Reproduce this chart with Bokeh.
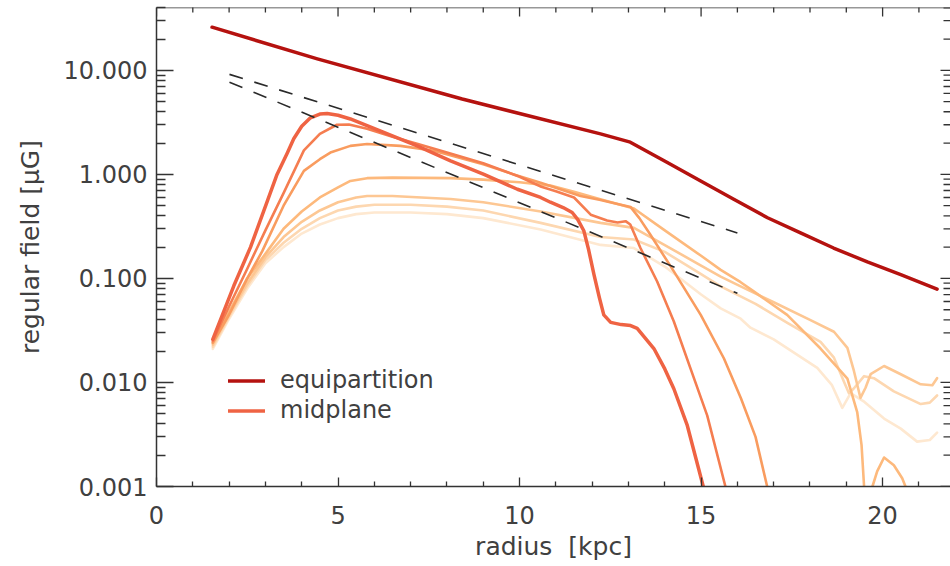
import math
from bokeh.plotting import figure
from bokeh.models import (FixedTicker, NumeralTickFormatter, Range1d, Legend, LegendItem, Span)
from bokeh.embed import file_html
from bokeh.resources import INLINE

# ---------------- data ----------------
eq_r = [1.53, 4.43, 8.42, 12.23, 13.05, 14.07, 14.99, 15.9, 16.83, 17.74, 18.65, 19.58, 20.5, 21.5]
eq_b = [26.0, 12.9, 5.3, 2.45, 2.04, 1.30, 0.865, 0.576, 0.383, 0.274, 0.196, 0.144, 0.109, 0.079]

d1_r = [2.01, 16.0]
d1_b = [9.15, 0.274]
d2_r = [2.01, 16.0]
d2_b = [7.7, 0.072]

m1_r = [1.55, 2.13, 2.59, 3.05, 3.32, 3.6, 3.78, 4.0, 4.24, 4.5, 4.7, 5.0, 5.34, 5.8, 6.26, 7.18,
        8.1, 9.02, 9.94, 10.58, 10.85, 11.2, 11.45, 11.6, 11.77, 11.9, 12.05, 12.2, 12.32, 12.51,
        12.8, 13.06, 13.24, 13.45, 13.7, 14.0, 14.25, 14.62, 15.06, 15.3]
m1_b = [0.026, 0.085, 0.20, 0.55, 1.0, 1.6, 2.2, 2.9, 3.5, 3.8, 3.85, 3.7, 3.41, 2.95, 2.54, 1.88,
        1.35, 1.0, 0.72, 0.60, 0.54, 0.48, 0.43, 0.37, 0.287, 0.19, 0.109, 0.065, 0.0446, 0.0378,
        0.036, 0.0352, 0.0331, 0.027, 0.0212, 0.0135, 0.0087, 0.00386, 0.001, 0.0005]

m2_r = [1.55, 2.0, 2.5, 2.75, 3.0, 3.5, 4.06, 4.5, 4.97, 5.3, 5.8, 6.5, 7.2, 8.0, 9.0, 10.0,
        10.6, 11.0, 11.5, 11.96, 12.41, 12.7, 12.92, 13.05, 13.2, 13.33, 13.79, 14.25, 14.71,
        15.17, 15.67, 15.9]
m2_b = [0.025, 0.054, 0.124, 0.19, 0.29, 0.66, 1.7, 2.45, 3.0, 3.02, 2.75, 2.3, 1.96, 1.62, 1.28, 0.95,
        0.76, 0.69, 0.60, 0.41, 0.36, 0.345, 0.355, 0.33, 0.25, 0.196, 0.0935, 0.0385, 0.0136,
        0.0048, 0.001, 0.0005]

m3_r = [1.55, 2.0, 2.5, 2.91, 3.5, 4.06, 4.5, 4.79, 5.34, 5.8, 6.72, 7.64, 9.0, 9.84, 10.58,
        11.68, 12.2, 12.7, 13.06, 13.3, 13.6, 14.25, 14.99, 15.63, 16.1, 16.5, 16.82, 17.0]
m3_b = [0.024, 0.045, 0.10, 0.182, 0.5, 1.08, 1.4, 1.62, 1.88, 1.96, 1.88, 1.69, 1.25, 1.0, 0.83,
        0.62, 0.57, 0.52, 0.485, 0.38, 0.264, 0.117, 0.0446, 0.017, 0.007, 0.003, 0.001, 0.0007]

m4_r = [1.55, 2.0, 2.5, 3.05, 3.5, 4.0, 4.5, 5.0, 5.34, 5.8, 6.5, 8.1, 9.0, 10.0, 10.85, 11.5,
        12.2, 13.15, 14.0, 15.0, 15.54, 16.09, 16.45, 17.37, 18.29, 19.03, 19.3, 19.42, 19.49,
        19.53, 19.66, 19.72, 19.85, 20.04, 20.31, 20.54, 20.63, 20.72]
m4_b = [0.024, 0.048, 0.10, 0.182, 0.30, 0.44, 0.60, 0.75, 0.865, 0.92, 0.93, 0.92, 0.89, 0.84,
        0.78, 0.68, 0.58, 0.47, 0.29, 0.165, 0.121, 0.092, 0.075, 0.0446, 0.0212, 0.0109, 0.0052,
        0.0025, 0.001, 0.0004, 0.0006, 0.001, 0.0014, 0.0019, 0.0016, 0.0012, 0.001, 0.0006]

m5_r = [1.55, 2.0, 2.5, 3.0, 3.5, 4.0, 4.5, 5.0, 5.5, 5.8, 6.5, 8.1, 9.0, 10.58, 12.23, 13.15,
        14.0, 15.0, 15.54, 16.09, 17.0, 18.0, 18.66, 19.03, 19.21, 19.39, 19.53, 19.67, 20.04,
        20.5, 21.05, 21.37, 21.5]
m5_b = [0.023, 0.045, 0.09, 0.16, 0.25, 0.35, 0.45, 0.54, 0.60, 0.62, 0.62, 0.58, 0.54, 0.44,
        0.342, 0.306, 0.209, 0.133, 0.104, 0.084, 0.059, 0.040, 0.0307, 0.0215, 0.0129, 0.0071,
        0.0089, 0.012, 0.0144, 0.012, 0.0096, 0.0094, 0.011]

m6_r = [1.55, 2.0, 2.5, 3.0, 3.5, 4.0, 4.5, 5.0, 5.5, 6.0, 7.0, 8.0, 9.0, 10.58, 12.23, 13.15,
        14.0, 15.0, 15.54, 16.5, 17.4, 18.29, 18.66, 18.93, 19.07, 19.2, 19.49, 19.76, 20.31,
        21.05, 21.3, 21.5]
m6_b = [0.022, 0.043, 0.085, 0.15, 0.22, 0.30, 0.38, 0.45, 0.49, 0.51, 0.51, 0.49, 0.45, 0.342,
        0.25, 0.237, 0.18, 0.11, 0.084, 0.057, 0.037, 0.0246, 0.0173, 0.0103, 0.0079, 0.0087,
        0.0115, 0.011, 0.0082, 0.0062, 0.0064, 0.0075]

m7_r = [1.55, 2.0, 2.5, 3.0, 3.5, 4.0, 4.5, 5.0, 5.5, 6.0, 7.0, 8.0, 9.0, 10.58, 12.23, 13.15,
        14.0, 15.0, 15.54, 16.09, 16.36, 17.0, 18.2, 18.6, 18.89, 19.12, 19.5, 20.04, 20.5,
        20.95, 21.3, 21.5]
m7_b = [0.021, 0.041, 0.08, 0.14, 0.20, 0.27, 0.33, 0.38, 0.415, 0.43, 0.43, 0.415, 0.38, 0.295,
        0.21, 0.196, 0.13, 0.07, 0.0516, 0.041, 0.0336, 0.026, 0.0138, 0.0095, 0.0057, 0.0079,
        0.0065, 0.0045, 0.0036, 0.0027, 0.0028, 0.0033]

x_ticks = [0, 5, 10, 15, 20]
x_minor = [v for v in range(0, 23) if v % 5 != 0]
y_ticks = [0.001, 0.01, 0.1, 1.0, 10.0]
y_minor = [k * 10.0 ** e for e in range(-3, 2) for k in range(2, 10) if k * 10.0 ** e < 40.2]

X_MAX = 21.87
Y_MIN, Y_MAX = 0.001, 40.2

# ---------------- styling ----------------
FONT = "DejaVu Sans"
TXT = "#404040"
AX = "#333333"
EQ_COLOR = "#b5120f"
MID_COLORS = ["#ef6343", "#f57d50", "#f99c5f", "#fdb97c", "#fdc793", "#fdd7b0", "#fee8d0"]
MID_WIDTHS = [3.5, 2.6, 2.6, 2.6, 2.6, 2.6, 2.6]

p = figure(width=950, height=566, y_axis_type="log",
           x_range=Range1d(0, X_MAX), y_range=Range1d(Y_MIN, Y_MAX),
           output_backend="svg", toolbar_location=None,
           min_border_left=156, min_border_right=0, min_border_top=7, min_border_bottom=80)
p.outline_line_color = None
p.xgrid.visible = False
p.ygrid.visible = False
p.background_fill_color = "white"
p.border_fill_color = "white"

# left axis
ya = p.yaxis[0]
ya.ticker = FixedTicker(ticks=y_ticks, minor_ticks=y_minor)
ya.formatter = NumeralTickFormatter(format="0.000")
ya.major_tick_in = 17
ya.major_tick_out = 0
ya.minor_tick_in = 9
ya.minor_tick_out = 0
ya.axis_line_width = 1.5
ya.axis_line_color = AX
ya.major_tick_line_color = AX
ya.minor_tick_line_color = AX
ya.major_tick_line_width = 1.3
ya.minor_tick_line_width = 1.3
ya.major_label_standoff = 9
ya.major_label_text_font = FONT
ya.major_label_text_font_size = "24px"
ya.major_label_text_color = TXT
ya.axis_label = "regular field [μG]"
ya.axis_label_text_font = FONT
ya.axis_label_text_font_size = "25px"
ya.axis_label_text_font_style = "normal"
ya.axis_label_text_color = TXT
ya.axis_label_standoff = 16

# bottom axis
xa = p.xaxis[0]
xa.ticker = FixedTicker(ticks=x_ticks, minor_ticks=x_minor)
xa.major_tick_in = 9
xa.major_tick_out = 0
xa.minor_tick_in = 5
xa.minor_tick_out = 0
xa.axis_line_width = 1.5
xa.axis_line_color = AX
xa.major_tick_line_color = AX
xa.minor_tick_line_color = AX
xa.major_tick_line_width = 1.3
xa.minor_tick_line_width = 1.3
xa.major_label_standoff = 19
xa.major_label_text_font = FONT
xa.major_label_text_font_size = "24px"
xa.major_label_text_color = TXT
xa.axis_label = "radius \u00a0[kpc]"
xa.axis_label_text_font = FONT
xa.axis_label_text_font_size = "25px"
xa.axis_label_text_font_style = "normal"
xa.axis_label_text_color = TXT
xa.axis_label_standoff = 5

# top spine
p.add_layout(Span(location=Y_MAX, dimension="width", line_color=AX, line_width=1.5))

# ---------------- glyphs ----------------
mids = [(m7_r, m7_b), (m6_r, m6_b), (m5_r, m5_b), (m4_r, m4_b),
        (m3_r, m3_b), (m2_r, m2_b), (m1_r, m1_b)]
mid_renderers = []
for i, (rr, bb) in enumerate(mids):
    k = 6 - i
    r = p.line(rr, bb, line_color=MID_COLORS[k], line_width=MID_WIDTHS[k],
               line_join="round", line_cap="round")
    mid_renderers.append(r)
m1_renderer = mid_renderers[-1]

eq_renderer = p.line(eq_r, eq_b, line_color=EQ_COLOR, line_width=3.5,
                     line_join="round", line_cap="round")

p.line(d1_r, d1_b, line_color="#2a2a2a", line_width=1.6, line_dash="14 12")
p.line(d2_r, d2_b, line_color="#2a2a2a", line_width=1.6, line_dash="14 12")

# mirrored ticks on top and right (dash markers centred on the frame edge, clipped to half)
p.scatter(x_ticks, [Y_MAX] * len(x_ticks), marker="dash", angle=math.pi / 2, size=18,
          line_color=AX, line_width=1.3)
p.scatter(x_minor, [Y_MAX] * len(x_minor), marker="dash", angle=math.pi / 2, size=10,
          line_color=AX, line_width=1.3)
p.scatter([X_MAX] * len(y_ticks), y_ticks, marker="dash", size=20,
          line_color=AX, line_width=1.3)
p.scatter([X_MAX] * len(y_minor), y_minor, marker="dash", size=14,
          line_color=AX, line_width=1.3)

legend = Legend(items=[LegendItem(label="equipartition", renderers=[eq_renderer]),
                       LegendItem(label="midplane", renderers=[m1_renderer])],
                location=(72, 62), orientation="vertical")
legend.border_line_color = None
legend.background_fill_alpha = 0
legend.padding = 0
legend.margin = 0
legend.spacing = 2
legend.glyph_width = 37
legend.glyph_height = 27
legend.label_height = 27
legend.label_standoff = 15
legend.label_text_font = FONT
legend.label_text_font_size = "24px"
legend.label_text_color = TXT
p.add_layout(legend)

open("out.html", "w").write(file_html(p, INLINE))
